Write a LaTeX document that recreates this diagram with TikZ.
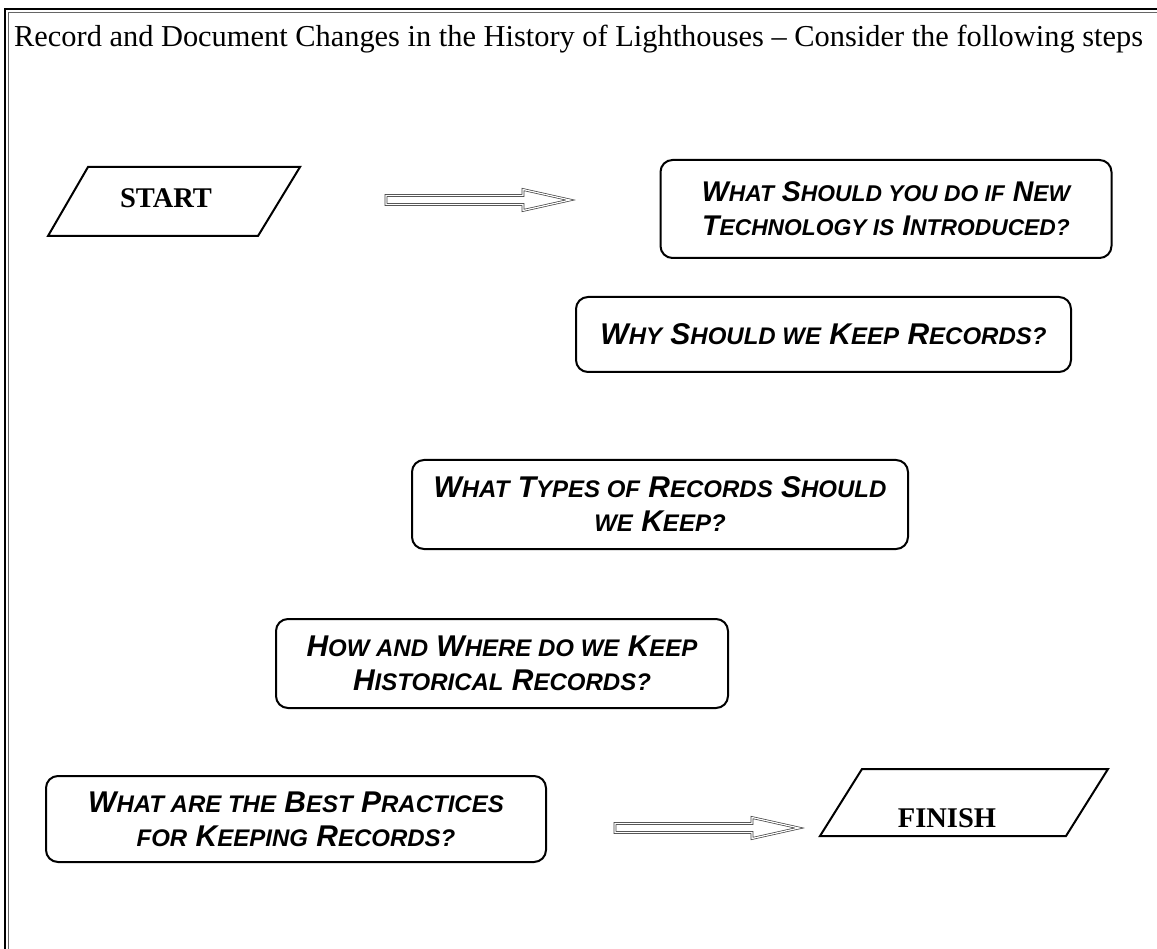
\documentclass[tikz,border=0pt]{standalone}
\usepackage{fontspec}
\setmainfont{Liberation Serif}
\newfontfamily\arialfont{Liberation Sans}
\usetikzlibrary{calc}
\newcommand\Sm[1]{{\fontsize{24}{34}\selectfont #1}}
\newcommand\SmA[1]{{\fontsize{22.8}{34}\selectfont #1}}
\tikzset{
  qbox/.style={draw, line width=2pt, rounded corners=12pt, align=center, inner sep=0pt,
    font=\arialfont\bfseries\itshape\fontsize{30}{34}\selectfont},
  qboxA/.style={qbox, font=\arialfont\bfseries\itshape\fontsize{28.5}{34}\selectfont},
  para/.style={draw, line width=2pt, line join=miter},
  paratext/.style={font=\bfseries\fontsize{28.5}{30}\selectfont},
  blockarrow/.style={draw=black!75, line width=0.7pt, double=white, double distance=1.2pt, line join=miter},
}
\begin{document}
\begin{tikzpicture}[x=1pt,y=-1pt]
\useasboundingbox (0,0) rectangle (1157,949);
% frame
\draw[line width=1.2pt] (5,949) -- (5,9) -- (1157,9);
\draw[line width=0.8pt, black!60] (8,949) -- (8,12) -- (1157,12);
% title
\node[anchor=base west, inner sep=0pt, font=\fontsize{30.4}{34}\selectfont] (title) at (14,47)
  {Record and Document Changes in the History of Lighthouses – Consider the following steps};
% start
\draw[para] (88,167) -- (300,167) -- (258,236) -- (48,236) -- cycle;
\node[paratext] (start) at (166,198) {START};
% arrows
\coordinate (a1) at (386,200);
\coordinate (a2) at (615,828);
\foreach \c in {a1,a2}{
  \draw[blockarrow, shift={(\c)}] (0,-4.5) -- (137,-4.5) -- (137,-10.5) -- (184,0)
    -- (137,10.5) -- (137,4.5) -- (0,4.5) -- cycle;
}
% boxes
\node[qboxA, minimum width=451pt, minimum height=98pt] (b1) at (886,209)
  {W\SmA{HAT} S\SmA{HOULD YOU DO IF} N\SmA{EW}\\T\SmA{ECHNOLOGY IS} I\SmA{NTRODUCED?}};
\node[qbox, minimum width=495pt, minimum height=75pt] (b2) at (823.5,334.5)
  {W\Sm{HY} S\Sm{HOULD WE} K\Sm{EEP} R\Sm{ECORDS?}};
\node[qbox, minimum width=496pt, minimum height=89pt] (b3) at (660,504.5)
  {W\Sm{HAT} T\Sm{YPES OF} R\Sm{ECORDS} S\Sm{HOULD}\\\Sm{WE} K\Sm{EEP?}};
\node[qbox, minimum width=452pt, minimum height=89pt] (b4) at (502,663.5)
  {H\Sm{OW AND} W\Sm{HERE DO WE} K\Sm{EEP}\\H\Sm{ISTORICAL} R\Sm{ECORDS?}};
\node[qbox, minimum width=500pt, minimum height=86pt] (b5) at (296,819)
  {W\Sm{HAT ARE THE} B\Sm{EST} P\Sm{RACTICES}\\\Sm{FOR} K\Sm{EEPING} R\Sm{ECORDS?}};
% finish
\draw[para] (862,769) -- (1108,769) -- (1066,836) -- (820,836) -- cycle;
\node[paratext] (finish) at (947,818) {FINISH};
\end{tikzpicture}
\end{document}
